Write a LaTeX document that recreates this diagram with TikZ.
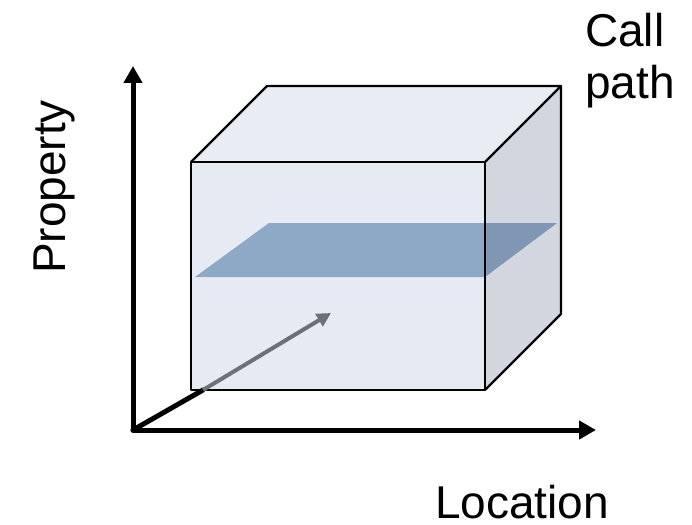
\documentclass[tikz,border=0pt]{standalone}
\usepackage{fontspec}
\setmainfont{Liberation Sans}
\usetikzlibrary{arrows.meta,positioning}
\definecolor{frontface}{RGB}{230,234,242}
\definecolor{topface}{RGB}{233,236,244}
\definecolor{sideface}{RGB}{88,103,133}
\definecolor{slice}{RGB}{142,169,198}
\definecolor{pathgray}{RGB}{109,112,120}

\begin{document}
\begin{tikzpicture}[x=1pt,y=-1pt]
  % Styles
  \tikzset{
    axis/.style={line width=5pt, line cap=round, black, -{Triangle[length=17pt,width=18pt]}},
    edge/.style={draw=black, line width=2.2pt, line join=round},
    callarrow/.style={line width=4pt, pathgray, -{Triangle[length=14pt,width=14pt]}},
    axislabel/.style={font=\fontsize{46}{52}\selectfont, inner sep=0pt}
  }
  \useasboundingbox (0,0) rectangle (692,524);

  % Cube corners
  \coordinate (ftl) at (191,162);
  \coordinate (ftr) at (485,162);
  \coordinate (fbl) at (191,390);
  \coordinate (fbr) at (485,390);
  \coordinate (btl) at (267,86);
  \coordinate (btr) at (561,86);
  \coordinate (bbr) at (561,314);

  % Slice corners
  \coordinate (sfl) at (195,277);
  \coordinate (sfr) at (485,277);
  \coordinate (sbl) at (269,223);
  \coordinate (sbr) at (557,223);

  % Faces
  \fill[frontface] (ftl) -- (ftr) -- (fbr) -- (fbl) -- cycle;
  \fill[topface] (ftl) -- (btl) -- (btr) -- (ftr) -- cycle;
  \fill[slice] (sfl) -- (sbl) -- (sbr) -- (sfr) -- cycle;
  \fill[sideface, fill opacity=0.27] (ftr) -- (btr) -- (bbr) -- (fbr) -- cycle;

  % Edges
  \draw[edge] (ftl) -- (ftr) -- (fbr) -- (fbl) -- cycle;
  \draw[edge] (ftl) -- (btl) -- (btr) -- (ftr);
  \draw[edge] (btr) -- (bbr) -- (fbr);

  % Axes
  \coordinate (origin) at (133,430);
  \coordinate (ytip) at (133,66);
  \coordinate (xtip) at (596,430);
  \coordinate (zin) at (203,390);
  \coordinate (ztip) at (331,313);
  \draw[axis] (origin) -- (ytip);
  \draw[axis] (origin) -- (xtip);
  \draw[line width=5pt, line cap=round] (origin) -- (zin);
  \draw[callarrow] (zin) -- (ztip);

  % Labels
  \node[axislabel, rotate=90, anchor=base] (property) at (65,187) {Property};
  \node[axislabel, anchor=base] (location) at (522,518) {Location};
  \node[axislabel, anchor=north west, align=left] (callpath) at (585,13) {Call\\path};

\end{tikzpicture}
\end{document}
